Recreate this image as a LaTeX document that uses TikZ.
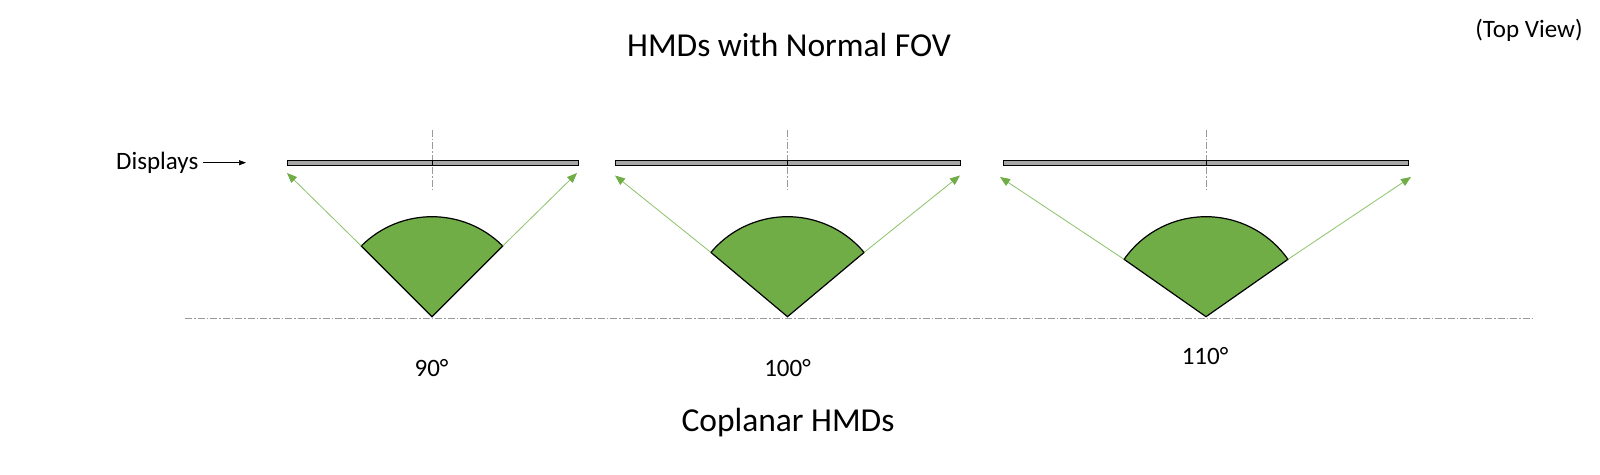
\documentclass[tikz,border=0pt]{standalone}
\usepackage{fontspec}
\setmainfont{Carlito}
\usetikzlibrary{arrows.meta}
\definecolor{fovgreen}{HTML}{70AD47}
\definecolor{raygreen}{HTML}{8CC26A}
\definecolor{bargray}{HTML}{A6A6A6}
\definecolor{axisgray}{HTML}{9A9A9A}
\begin{document}
\begin{tikzpicture}[x=1pt,y=1pt,
  axisline/.style={axisgray, line width=0.7pt, dash pattern=on 7pt off 2pt on 1.5pt off 2pt},
  barbox/.style={draw=black, fill=bargray, line width=0.8pt},
  sector/.style={draw=black, fill=fovgreen, line width=1.2pt, line join=miter},
  ray/.style={raygreen, line width=0.8pt, -{Triangle[length=10pt,width=8pt,color=fovgreen]}},
  pointer/.style={black, line width=0.7pt, -{Triangle[length=7pt,width=5pt]}},
  lbl/.style={font=\fontsize{25}{30}\selectfont, inner sep=0pt, anchor=base},
  big/.style={font=\fontsize{33.5}{40}\selectfont, inner sep=0pt, anchor=base}]
\useasboundingbox (0,0) rectangle (1600,474);
\fill[white] (0,0) rectangle (1600,474);

% texts
\node[big] (title) at (789,417.3) {HMDs with Normal FOV};
\node[big] (coplanar) at (788,42.3) {Coplanar HMDs};
\node[lbl] (topview) at (1529,436.7) {(Top View)};
\node[lbl, anchor=base west] (displays) at (116,304.7) {Displays};
\coordinate (dispA) at (203,311.3);
\coordinate (dispB) at (246,311.3);
\draw[pointer] (dispA) -- (dispB);

% common baseline
\coordinate (baseL) at (185,155.7);
\coordinate (baseR) at (1533,155.7);
\draw[axisline] (baseL) -- (baseR);

\foreach \i/\cx/\xl/\xr/\h/\txl/\txr/\ty in
  {1/432/287/578/45/287/577/301,
   2/787.5/615/960/50/615/960/298.5,
   3/1206/1003/1408/55/1000/1411/297}{
  \coordinate (apex\i) at (\cx,157.3);
  \path (apex\i) ++(90+\h:100) coordinate (cl\i);
  \path (apex\i) ++(90-\h:100) coordinate (cr\i);
  \coordinate (tl\i) at (\txl,\ty);
  \coordinate (tr\i) at (\txr,\ty);
  \coordinate (vt\i) at (\cx,344);
  \coordinate (vb\i) at (\cx,284);
  \draw[axisline] (vt\i) -- (vb\i);
  \draw[barbox] (\xl,309) rectangle (\cx,314);
  \draw[barbox] (\cx,309) rectangle (\xr,314);
  \draw[sector] (apex\i) -- (cl\i) arc[start angle=90+\h, end angle=90-\h, radius=100] -- cycle;
  \draw[ray] (cl\i) -- (tl\i);
  \draw[ray] (cr\i) -- (tr\i);
}

\node[lbl] (a90) at (431.5,97.3) {90°};
\node[lbl] (a100) at (787.5,97.3) {100°};
\node[lbl] (a110) at (1205,110) {110°};
\end{tikzpicture}
\end{document}
